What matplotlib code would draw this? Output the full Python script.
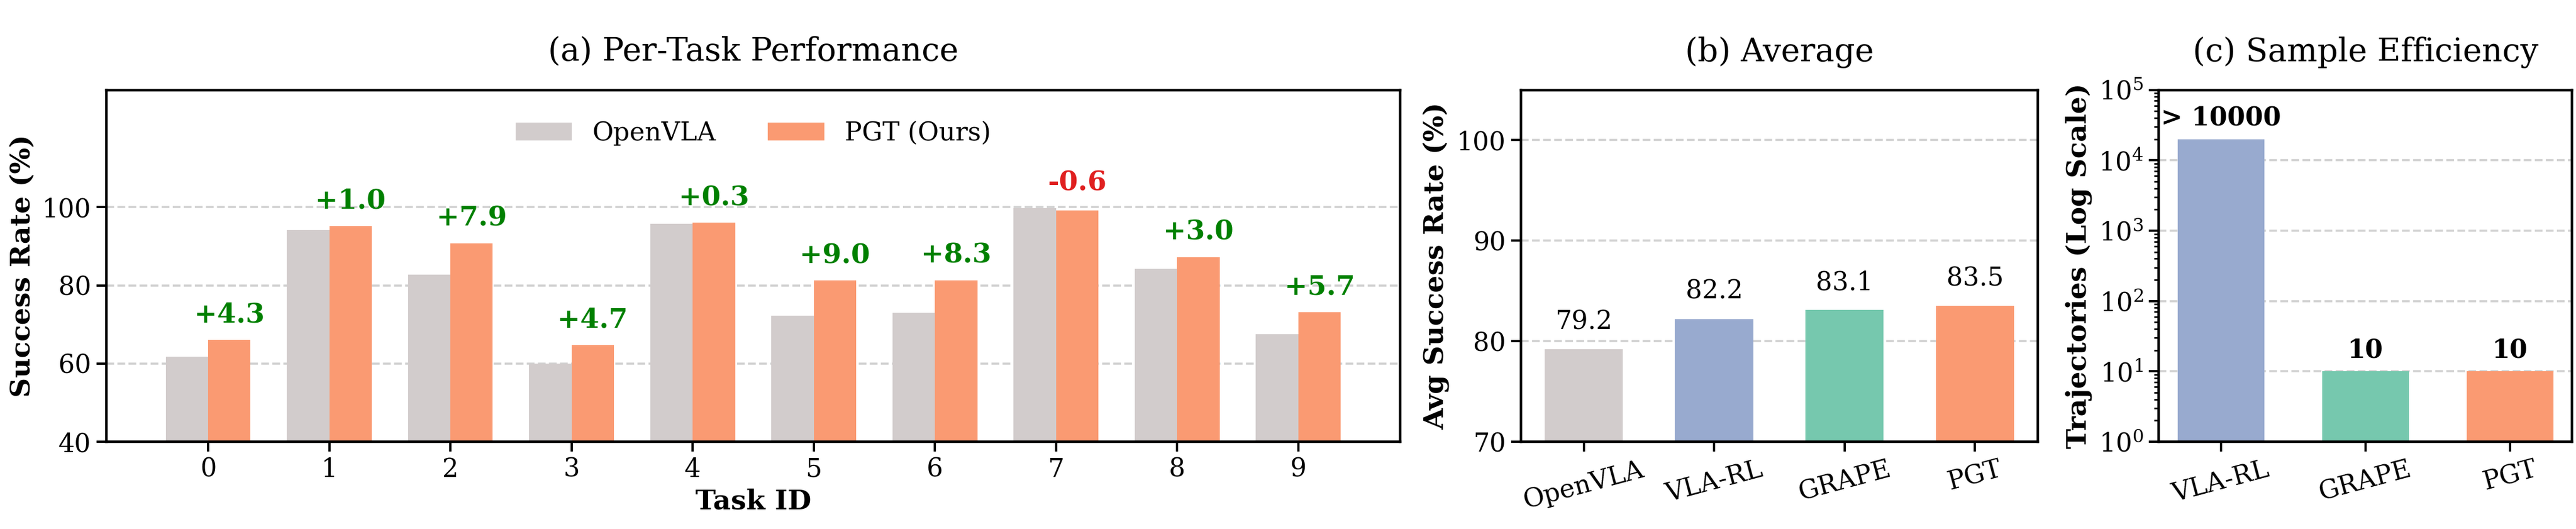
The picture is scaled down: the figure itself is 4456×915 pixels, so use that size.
import matplotlib.pyplot as plt
import numpy as np

plt.rcParams["font.family"] = ["DejaVu Serif"]

TASKS = list(range(10))
OPENVLA = [61.7, 94.2, 82.8, 60.0, 95.7, 72.2, 73.0, 99.8, 84.2, 67.5]
PGT = [66.0, 95.2, 90.7, 64.7, 96.0, 81.2, 81.3, 99.2, 87.2, 73.2]
DELTAS = ["+4.3", "+1.0", "+7.9", "+4.7", "+0.3", "+9.0", "+8.3", "-0.6", "+3.0", "+5.7"]

AVG_METHODS = ["OpenVLA", "VLA-RL", "GRAPE", "PGT"]
AVG_VALUES = [79.2, 82.2, 83.1, 83.5]

EFF_METHODS = ["VLA-RL", "GRAPE", "PGT"]
EFF_VALUES = [20000, 10, 10]
EFF_LABELS = ["> 10000", "10", "10"]

GRAY = "#d2cccc"
ORANGE = "#fa9a72"
BLUE = "#98aacf"
GREEN = "#76c8ae"
COLORS_B = [GRAY, BLUE, GREEN, ORANGE]
COLORS_C = [BLUE, GREEN, ORANGE]

TICK = 16
LAB = 17
TITLE = 20

fig = plt.figure(figsize=(22.28, 4.575), dpi=200)
ax_a = fig.add_axes([0.0413, 0.165, 0.5022, 0.665])
ax_b = fig.add_axes([0.5905, 0.165, 0.2005, 0.665])
ax_c = fig.add_axes([0.838, 0.165, 0.1605, 0.665])

for ax in (ax_a, ax_b, ax_c):
    ax.grid(axis="y", linestyle="--", color="#cccccc", linewidth=1.3, alpha=0.9)
    ax.set_axisbelow(True)
    for s in ax.spines.values():
        s.set_linewidth(1.6)
    ax.tick_params(labelsize=TICK, width=1.4, length=6)

# (a) per-task
x = np.arange(len(TASKS))
w = 0.35
ax_a.bar(x - w / 2, OPENVLA, w, color=GRAY, label="OpenVLA")
ax_a.bar(x + w / 2, PGT, w, color=ORANGE, label="PGT (Ours)")
for i, d in enumerate(DELTAS):
    top = max(OPENVLA[i], PGT[i])
    col = "#e02020" if d.startswith("-") else "green"
    ax_a.text(x[i] + w / 2, top + 3, d, ha="center", va="bottom",
              fontsize=LAB, fontweight="bold", color=col)
ax_a.set_xticks(x)
ax_a.set_xticklabels([str(t) for t in TASKS])
ax_a.set_xlim(-0.84, 9.84)
ax_a.set_ylim(40, 130)
ax_a.set_yticks([40, 60, 80, 100])
ax_a.set_xlabel("Task ID", fontsize=LAB, fontweight="bold")
ax_a.set_ylabel("Success Rate (%)", fontsize=LAB, fontweight="bold")
ax_a.set_title("(a) Per-Task Performance", fontsize=TITLE, pad=18)
ax_a.legend(loc="upper center", ncol=2, frameon=False, fontsize=TICK,
            handlelength=2.2, columnspacing=2.0, borderaxespad=0.8)

# (b) average
xb = np.arange(len(AVG_METHODS))
ax_b.bar(xb, AVG_VALUES, 0.6, color=COLORS_B)
for i, v in enumerate(AVG_VALUES):
    ax_b.text(xb[i], v + 1.5, "%.1f" % v, ha="center", va="bottom", fontsize=TICK)
ax_b.set_xticks(xb)
ax_b.set_xticklabels(AVG_METHODS, rotation=15)
ax_b.set_xlim(-0.48, 3.48)
ax_b.set_ylim(70, 105)
ax_b.set_yticks([70, 80, 90, 100])
ax_b.set_ylabel("Avg Success Rate (%)", fontsize=LAB, fontweight="bold")
ax_b.set_title("(b) Average", fontsize=TITLE, pad=18)

# (c) sample efficiency
xc = np.arange(len(EFF_METHODS))
ax_c.bar(xc, EFF_VALUES, 0.6, color=COLORS_C)
ax_c.set_yscale("log")
for i, v in enumerate(EFF_VALUES):
    ax_c.text(xc[i], v * 1.3, EFF_LABELS[i], ha="center", va="bottom",
              fontsize=TICK, fontweight="bold")
ax_c.set_xticks(xc)
ax_c.set_xticklabels(EFF_METHODS, rotation=15)
ax_c.set_xlim(-0.43, 2.43)
ax_c.set_ylim(1, 1e5)
ax_c.tick_params(which="minor", length=3, width=1.0)
ax_c.set_ylabel("Trajectories (Log Scale)", fontsize=LAB, fontweight="bold")
ax_c.set_title("(c) Sample Efficiency", fontsize=TITLE, pad=18)

fig.savefig("out.png")
